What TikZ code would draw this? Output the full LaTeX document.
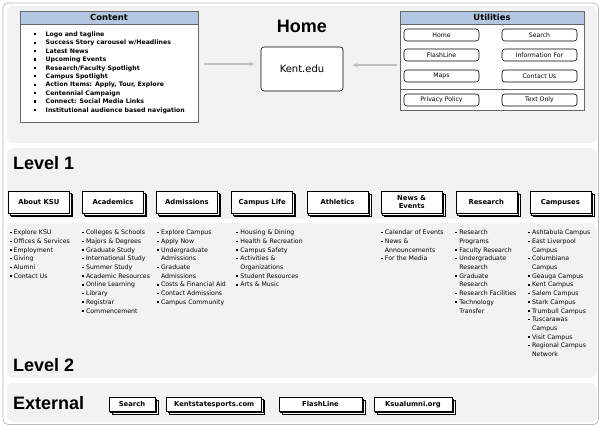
\documentclass[tikz,border=0pt]{standalone}
\usepackage{fontspec}
\setmainfont{DejaVu Sans}
\newfontfamily\titlefont{Liberation Sans}
\usetikzlibrary{shadows,arrows.meta}
\definecolor{panelgray}{RGB}{242,242,242}
\definecolor{framegray}{RGB}{185,185,185}
\definecolor{headblue}{RGB}{180,199,226}
\definecolor{arrowgray}{RGB}{192,192,192}
\newcommand{\itm}{\makebox[11.5pt][l]{\rule[1.1pt]{2.2pt}{2.2pt}}}
\newcommand{\sitm}{\makebox[4.2pt][l]{\rule[1.4pt]{2pt}{1.5pt}}}
\newcommand{\cnt}{\hspace*{4.2pt}}
\tikzset{
  panel/.style={fill=panelgray,rounded corners=6pt},
  levelhead/.style={anchor=west,inner sep=0pt,font=\titlefont\bfseries\fontsize{18}{18}\selectfont},
  pagebox/.style={draw=black,fill=white,line width=0.6pt,minimum width=61pt,minimum height=22pt,inner sep=0pt,align=center,
    font=\bfseries\fontsize{6.8}{7.8}\selectfont,
    double copy shadow={shadow xshift=1.5pt,shadow yshift=-1.5pt,fill=white,draw=black,line width=0.5pt}},
  extbox/.style={pagebox,minimum height=13.3pt},
  utilbtn/.style={draw=black,fill=white,rounded corners=3pt,line width=0.6pt,minimum width=75pt,minimum height=12pt,inner sep=0pt,font=\fontsize{6.2}{7}\selectfont},
  listbox/.style={draw=black!60,fill=white,line width=0.6pt,inner sep=0pt},
  listhead/.style={draw=black!60,fill=headblue,line width=0.6pt,minimum height=13.5pt,inner sep=0pt,font=\bfseries\fontsize{8.4}{9}\selectfont},
  sublist/.style={anchor=north west,inner sep=0pt,align=left,font=\fontsize{6.2}{8.7}\selectfont},
  flow/.style={draw=arrowgray,line width=1.3pt,-{Latex[length=5pt,width=5pt]}}
}
\begin{document}
\begin{tikzpicture}[x=1pt,y=-1pt]
\useasboundingbox (0,0) rectangle (600,427);
\draw[framegray,line width=0.7pt,rounded corners=5pt] (3,3) rectangle (598.5,424.5);
\fill[panel] (7,6) rectangle (597,143);
\fill[panel] (7,148) rectangle (597,219);
\fill[panel] (7,223) rectangle (597,378);
\fill[panel] (7,383) rectangle (597,422);

\node[listbox,minimum width=178pt,minimum height=111pt] (content) at (109,66.5) {};
\node[listhead,minimum width=178pt] (contenthead) at (109,17.75) {Content};
\node[anchor=north west,inner sep=0pt,align=left,font=\bfseries\fontsize{6.2}{8.4}\selectfont] (contentlist) at (34,31.6) {%
\itm Logo and tagline\\
\itm Success Story carousel w/Headlines\\
\itm Latest News\\
\itm Upcoming Events\\
\itm Research/Faculty Spotlight\\
\itm Campus Spotlight\\
\itm Action Items: Apply, Tour, Explore\\
\itm Centennial Campaign\\
\itm Connect: Social Media Links\\
\itm Institutional audience based navigation};

\node[inner sep=0pt,font=\titlefont\bfseries\fontsize{18}{18}\selectfont] (hometitle) at (302,26) {Home};
\node[draw=black,fill=white,rounded corners=3pt,line width=0.6pt,minimum width=82pt,minimum height=44pt,font=\fontsize{10}{12}\selectfont] (kent) at (302,69) {Kent.edu};

\node[listbox,minimum width=184pt,minimum height=99pt] (utilities) at (492,60.5) {};
\node[listhead,minimum width=184pt] (utilhead) at (492,17.75) {Utilities};
\draw[black!60,line width=0.6pt] ([yshift=21pt]utilities.south west) -- ([yshift=21pt]utilities.south east);
\node[utilbtn] (uhome) at (441.5,35) {Home};
\node[utilbtn] (usearch) at (539.5,35) {Search};
\node[utilbtn] (uflash) at (441.5,55) {FlashLine};
\node[utilbtn] (uinfo) at (539.5,55) {Information For};
\node[utilbtn] (umaps) at (441.5,76) {Maps};
\node[utilbtn] (ucontact) at (539.5,76) {Contact Us};
\node[utilbtn] (uprivacy) at (441.5,100) {Privacy Policy};
\node[utilbtn] (utextonly) at (539.5,100) {Text Only};

\coordinate (leftfrom) at ([yshift=2.5pt]content.east);
\coordinate (rightfrom) at ([yshift=-4.5pt]utilities.west);
\draw[flow,shorten <=6pt,shorten >=6pt] (leftfrom) -- (leftfrom -| kent.west);
\draw[flow,shorten <=3pt,shorten >=9pt] (rightfrom) -- (rightfrom -| kent.east);

\node[levelhead] (level1) at (13,163) {Level 1};
\node[pagebox] (about) at (38.8,202.3) {About KSU};
\node[pagebox] (academics) at (113,202.3) {Academics};
\node[pagebox] (admissions) at (187,202.3) {Admissions};
\node[pagebox] (campuslife) at (262.2,202.3) {Campus Life};
\node[pagebox] (athletics) at (337.5,202.3) {Athletics};
\node[pagebox] (news) at (411.7,202.3) {News \&\\Events};
\node[pagebox] (research) at (486.3,202.3) {Research};
\node[pagebox] (campuses) at (560.3,202.3) {Campuses};

\node[sublist] (aboutlist) at (9.3,229.8) {%
\sitm Explore KSU\\ \sitm Offices \& Services\\ \sitm Employment\\ \sitm Giving\\ \sitm Alumni\\ \sitm Contact Us};
\node[sublist] (academicslist) at (81.7,229.8) {%
\sitm Colleges \& Schools\\ \sitm Majors \& Degrees\\ \sitm Graduate Study\\ \sitm International Study\\ \sitm Summer Study\\
\sitm Academic Resources\\ \sitm Online Learning\\ \sitm Library\\ \sitm Registrar\\ \sitm Commencement};
\node[sublist] (admissionslist) at (156.7,229.8) {%
\sitm Explore Campus\\ \sitm Apply Now\\ \sitm Undergraduate\\ \cnt Admissions\\ \sitm Graduate\\ \cnt Admissions\\
\sitm Costs \& Financial Aid\\ \sitm Contact Admissions\\ \sitm Campus Community};
\node[sublist] (campuslifelist) at (236,229.8) {%
\sitm Housing \& Dining\\ \sitm Health \& Recreation\\ \sitm Campus Safety\\ \sitm Activities \&\\ \cnt Organizations\\
\sitm Student Resources\\ \sitm Arts \& Music};
\node[sublist] (newslist) at (380.5,229.8) {%
\sitm Calendar of Events\\ \sitm News \&\\ \cnt Announcements\\ \sitm For the Media};
\node[sublist] (researchlist) at (455,229.8) {%
\sitm Research\\ \cnt Programs\\ \sitm Faculty Research\\ \sitm Undergraduate\\ \cnt Research\\ \sitm Graduate\\ \cnt Research\\
\sitm Research Facilities\\ \sitm Technology\\ \cnt Transfer};
\node[sublist] (campuseslist) at (527.7,229.8) {%
\sitm Ashtabula Campus\\ \sitm East Liverpool\\ \cnt Campus\\ \sitm Columbiana\\ \cnt Campus\\ \sitm Geauga Campus\\
\sitm Kent Campus\\ \sitm Salem Campus\\ \sitm Stark Campus\\ \sitm Trumbull Campus\\ \sitm Tuscarawas\\ \cnt Campus\\
\sitm Visit Campus\\ \sitm Regional Campus\\ \cnt Network};

\node[levelhead] (level2) at (13,365) {Level 2};

\node[levelhead] (external) at (13,403) {External};
\node[extbox,minimum width=46pt] (extsearch) at (132,404.3) {Search};
\node[extbox,minimum width=95pt] (extsports) at (214.2,404.3) {Kentstatesports.com};
\node[extbox,minimum width=83pt] (extflash) at (320.5,404.3) {FlashLine};
\node[extbox,minimum width=78pt] (extalumni) at (413,404.3) {Ksualumni.org};
\end{tikzpicture}
\end{document}
